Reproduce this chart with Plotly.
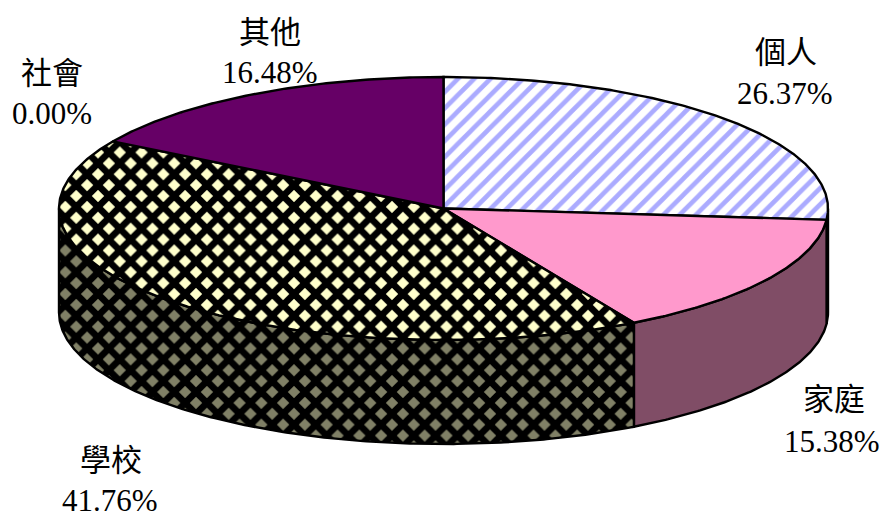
import numpy as np
import plotly.graph_objects as go

categories = ["個人", "家庭", "學校", "社會", "其他"]
values = [26.37, 15.38, 41.76, 0.00, 16.48]

CX, CY, RX, RY, DEPTH = 443.5, 208.5, 384.5, 131.5, 104

top_style = [
    dict(fillcolor="white", fillpattern=dict(shape="/", fgcolor="#ABABFF", bgcolor="white", fgopacity=1, size=11.5, solidity=0.4)),
    dict(fillcolor="#FF99CC"),
    dict(fillcolor="#FFFFCC", fillpattern=dict(shape="x", fgcolor="black", bgcolor="#FFFFCC", fgopacity=1, size=15.4, solidity=0.68)),
    dict(fillcolor="#CCFFFF"),
    dict(fillcolor="#660066"),
]
side_style = [
    dict(fillcolor="#80808A", fillpattern=dict(shape="/", fgcolor="#4C4C80", bgcolor="#808080", fgopacity=1, size=11.5, solidity=0.4)),
    dict(fillcolor="#804D66"),
    dict(fillcolor="#808066", fillpattern=dict(shape="x", fgcolor="black", bgcolor="#808066", fgopacity=1, size=15.4, solidity=0.68)),
    dict(fillcolor="#668080"),
    dict(fillcolor="#330033"),
]

label_centers = [(786, 49, 785, 93), (834, 396, 832, 441), (111, 457, 110, 500),
                 (52, 70, 52, 113), (270, 29, 270, 72)]


def arc(a0, a1, dy=0.0):
    t = np.radians(np.linspace(a0, a1, max(int(abs(a1 - a0) * 2), 2)))
    return CX + RX * np.sin(t), CY - RY * np.cos(t) + dy


fig = go.Figure()
total = sum(values)
edges = np.concatenate([[0.0], np.cumsum(values) / total * 360.0])

# walls (only the front half of the rim, 90..270 degrees, is visible)
for i in range(len(values)):
    a0, a1 = max(edges[i], 90.0), min(edges[i + 1], 270.0)
    if a1 <= a0:
        continue
    xt, yt = arc(a0, a1)
    xb, yb = arc(a1, a0, DEPTH)
    fig.add_trace(go.Scatter(
        x=np.r_[xt, xb, xt[0]], y=np.r_[yt, yb, yt[0]], mode="lines", fill="toself",
        line=dict(color="black", width=2.4), hoverinfo="skip", showlegend=False, **side_style[i]))

# top face
for i in range(len(values)):
    if values[i] <= 0:
        continue
    xt, yt = arc(edges[i], edges[i + 1])
    fig.add_trace(go.Scatter(
        x=np.r_[CX, xt, CX], y=np.r_[CY, yt, CY], mode="lines", fill="toself",
        line=dict(color="black", width=2.4), hoverinfo="skip", showlegend=False, **top_style[i]))

FONT = "Liberation Serif, Noto Sans CJK TC"
for name, v, (x1, y1, x2, y2) in zip(categories, values, label_centers):
    fig.add_annotation(x=x1, y=y1, text=name, showarrow=False,
                       font=dict(family="Noto Sans CJK TC", size=31, color="black"))
    fig.add_annotation(x=x2, y=y2, text=f"{v:.2f}%", showarrow=False,
                       font=dict(family=FONT, size=31, color="black"))

fig.update_layout(
    width=883, height=517, margin=dict(l=0, r=0, t=0, b=0),
    paper_bgcolor="white", plot_bgcolor="white", showlegend=False,
    xaxis=dict(range=[0, 883], visible=False, fixedrange=True),
    yaxis=dict(range=[517, 0], visible=False, fixedrange=True),
)
fig.write_html("out.html", config=dict(displayModeBar=False),
               post_script="document.body.style.margin='0';")
